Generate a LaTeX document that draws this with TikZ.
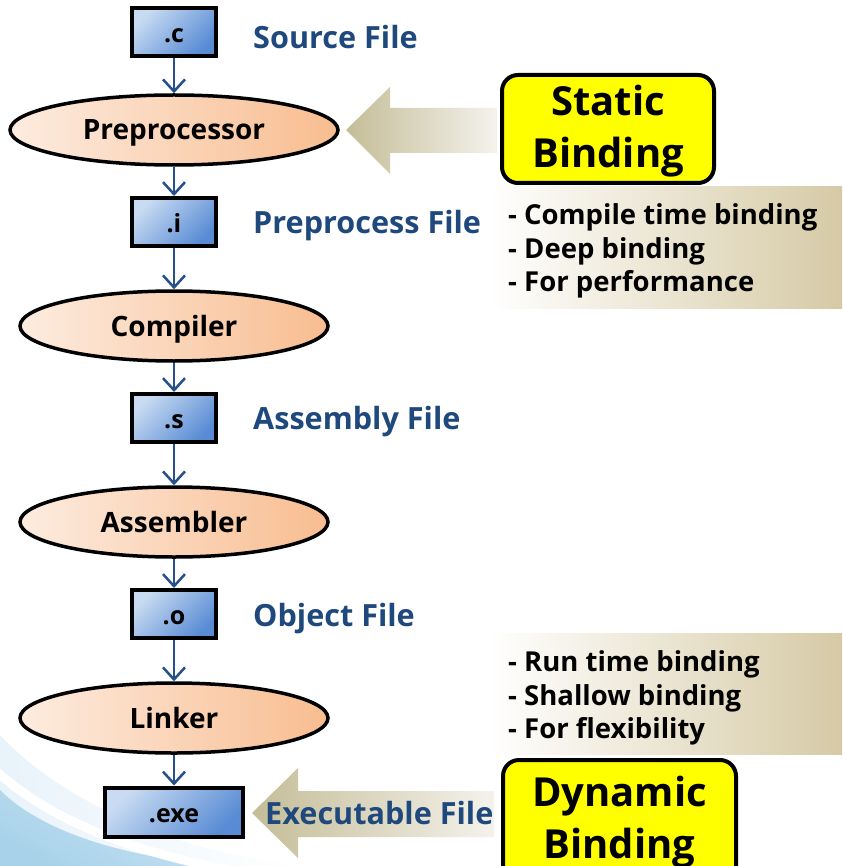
\documentclass[tikz,border=0pt]{standalone}
\usepackage{fontspec}
\setmainfont{Open Sans}
\usetikzlibrary{shapes.geometric,arrows.meta}
\definecolor{txtblue}{RGB}{31,73,125}
\definecolor{lnblue}{RGB}{38,80,138}
\definecolor{boxlt}{RGB}{200,219,242}
\definecolor{boxdk}{RGB}{88,139,212}
\definecolor{ellt}{RGB}{253,236,224}
\definecolor{eldk}{RGB}{248,189,144}
\definecolor{tanc}{RGB}{196,189,151}
\definecolor{tanlt}{RGB}{244,242,236}
\definecolor{panelr}{RGB}{214,202,165}
\definecolor{ybox}{RGB}{255,255,0}
\definecolor{swfaint}{RGB}{232,243,250}
\definecolor{swlt}{RGB}{205,230,244}
\definecolor{swdk}{RGB}{168,210,234}
\begin{document}
\begin{tikzpicture}[x=1pt,y=-1pt,
  filebox/.style={draw=black, line width=4pt, minimum width=84pt, minimum height=48pt, inner sep=0pt,
    text height=21pt, text depth=0pt, top color=boxlt, bottom color=boxdk, shading angle=45,
    font=\bfseries\fontsize{25}{27}\selectfont},
  proc/.style={ellipse, draw=black, line width=3.5pt, minimum width=308pt, minimum height=70pt, inner sep=0pt,
    text depth=0pt, left color=ellt, right color=eldk, font=\bfseries\fontsize{28}{30}\selectfont},
  lbl/.style={anchor=west, text=txtblue, text depth=0pt, font=\bfseries\fontsize{30.6}{32}\selectfont, inner sep=0pt},
  flow/.style={draw=lnblue, line width=2.5pt, -{Straight Barb[length=12pt, width=22pt, line width=2.5pt]}},
  bind/.style={draw=black, line width=4pt, fill=ybox, rounded corners=16pt, inner sep=0pt, align=center,
    font=\bfseries\fontsize{40}{52}\selectfont},
  note/.style={anchor=west, inner sep=0pt, align=left, font=\bfseries\fontsize{27.5}{33.5}\selectfont},
  panel/.style={left color=white, right color=panelr},
  blockarrow/.style={left color=tanc, right color=tanlt}
]
\useasboundingbox (0,0) rectangle (842,866);
\clip (0,0) rectangle (842,866);
\fill[white] (0,0) rectangle (842,866);

% background swoosh
\shade[left color=swfaint, right color=white]
  (0,735) .. controls (60,800) and (170,850) .. (300,866) -- (0,866) -- cycle;
\shade[top color=swlt, bottom color=swdk, shading angle=-30]
  (0,790) .. controls (40,830) and (120,858) .. (230,866) -- (0,866) -- cycle;
\draw[white, line width=9pt] (-5,770) .. controls (50,820) and (130,852) .. (240,872);

% panels
\shade[panel] (490,187) rectangle (842,308);
\shade[panel] (490,633) rectangle (842,754);

% block arrows
\shade[blockarrow] (346,130) -- (390,87) -- (390,108) -- (497,108) -- (497,153) -- (390,153) -- (390,174) -- cycle;
\shade[blockarrow] (252,813) -- (298,768) -- (298,791) -- (494,791) -- (494,837) -- (298,837) -- (298,858) -- cycle;

% file boxes
\node[filebox] (c) at (174,32) {.c};
\node[filebox] (i) at (174,222) {.i};
\node[filebox] (s) at (174,418) {.s};
\node[filebox] (o) at (174,614) {.o};
\node[filebox, minimum width=138pt, minimum height=49pt] (exe) at (174,812) {.exe};

% processes
\node[proc, minimum width=328pt] (pre) at (174,130) {Preprocessor};
\node[proc] (comp) at (174,326) {Compiler};
\node[proc] (asm) at (174,522) {Assembler};
\node[proc] (lnk) at (174,718) {Linker};

% connectors
\draw[flow] (c) -- (pre);
\draw[flow] (pre) -- (i);
\draw[flow] (i) -- (comp);
\draw[flow] (comp) -- (s);
\draw[flow] (s) -- (asm);
\draw[flow] (asm) -- (o);
\draw[flow] (o) -- (lnk);
\draw[flow] (lnk) -- (exe);

% labels
\node[lbl] (lc) at (253,37) {Source File};
\node[lbl] (li) at (253,222) {Preprocess File};
\node[lbl] (ls) at (253,418) {Assembly File};
\node[lbl] (lo) at (253,615) {Object File};
\node[lbl] (lexe) at (265,813) {Executable File};

% binding boxes
\node[bind, minimum width=212pt, minimum height=108pt] (static) at (608,129) {\rule{0pt}{35pt}Static\\Binding};
\node[bind, minimum width=233pt, minimum height=124pt, anchor=north] (dyn) at (619.5,758) {Dynamic\\Binding};

% notes
\node[note] (n1) at (508,251) {- Compile time binding\\- Deep binding\\- For performance};
\node[note] (n2) at (508,698) {- Run time binding\\- Shallow binding\\- For flexibility};
\end{tikzpicture}
\end{document}
